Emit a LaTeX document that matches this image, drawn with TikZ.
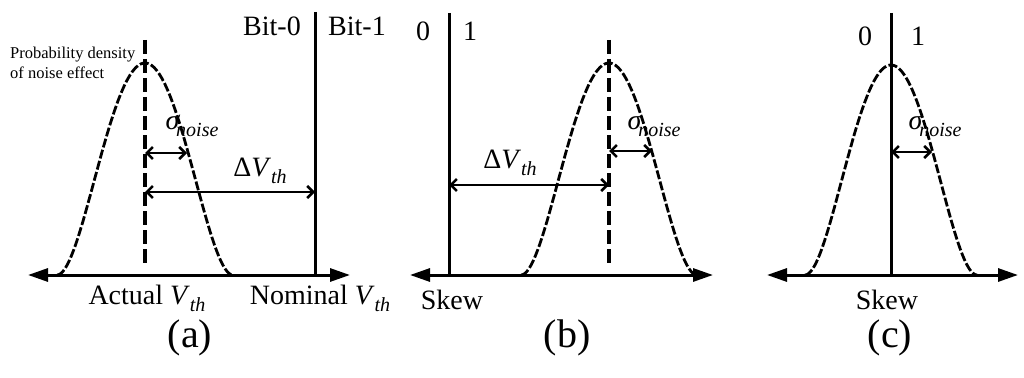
\documentclass[tikz,border=0pt]{standalone}
\usepackage{fontspec}
\setmainfont{Liberation Serif}
\usetikzlibrary{arrows.meta, positioning}

\newcommand{\lsub}[1]{\raisebox{-0.25em}{\fontsize{20}{20}\selectfont\itshape #1}}
\newcommand{\vth}{\textit{V}\lsub{th}}
\newcommand{\signoise}{\textit{σ}\kern-4pt\lsub{noise}}

\begin{document}
\begin{tikzpicture}[
    x=1pt, y=-1pt,
    label/.style={font=\fontsize{28}{32}\selectfont, inner sep=0},
    caption/.style={font=\fontsize{40}{44}\selectfont, inner sep=0},
    axis/.style={line width=3pt, {Triangle[length=20pt,width=13pt]}-{Triangle[length=20pt,width=13pt]}},
    border/.style={line width=3pt},
    centre/.style={line width=3.5pt, dash pattern=on 14pt off 5pt},
    density/.style={line width=2.8pt, dash pattern=on 9pt off 2.5pt},
    dim/.style={line width=2.5pt, {Straight Barb[length=6pt,width=12pt]}-{Straight Barb[length=6pt,width=12pt]}},
]
\useasboundingbox (0,0) rectangle (1024,377);

% (a)
\coordinate (a-left) at (28,275);
\coordinate (a-right) at (350,275);
\coordinate (a-top) at (315,12);
\coordinate (a-nom) at (315,275);
\coordinate (a-ctop) at (145,40);
\coordinate (a-cbot) at (145,265);
\coordinate (a-sl) at (145,153);
\coordinate (a-sr) at (187,153);
\coordinate (a-dl) at (145,192);
\coordinate (a-dr) at (315,192);
\draw [density] plot[domain=-88:88, samples=90, smooth] ({145+\x},{275-212*(1-\x*\x/7744)*(1-\x*\x/7744)});
\draw [axis] (a-left) -- (a-right);
\draw [border] (a-top) -- (a-nom);
\draw [centre] (a-ctop) -- (a-cbot);
\draw [dim] (a-sl) -- (a-sr);
\draw [dim] (a-dl) -- (a-dr);
\node (a-bit0) [label] at (272,26) {Bit-0};
\node (a-bit1) [label] at (357,26) {Bit-1};
\node (a-prob) [anchor=north west, inner sep=0, align=left, font=\fontsize{16.5}{20}\selectfont] at (10,47) {Probability density\\of noise effect};
\node (a-sig) [label] at (192,126) {\signoise};
\node (a-dv) [label] at (260,171) {Δ\vth};
\node (a-act) [label] at (147,298) {Actual \vth};
\node (a-nomlab) [label] at (320,298) {Nominal \vth};
\node (a-cap) [caption] at (190,338) {(a)};

% (b)
\coordinate (b-left) at (410,275);
\coordinate (b-right) at (713,275);
\coordinate (b-top) at (449,13);
\coordinate (b-skew) at (449,275);
\coordinate (b-ctop) at (609,40);
\coordinate (b-cbot) at (609,265);
\coordinate (b-sl) at (609,151);
\coordinate (b-sr) at (652,151);
\coordinate (b-dl) at (449,185);
\coordinate (b-dr) at (609,185);
\draw [density] plot[domain=-88:88, samples=90, smooth] ({609+\x},{275-212*(1-\x*\x/7744)*(1-\x*\x/7744)});
\draw [axis] (b-left) -- (b-right);
\draw [border] (b-top) -- (b-skew);
\draw [centre] (b-ctop) -- (b-cbot);
\draw [dim] (b-sl) -- (b-sr);
\draw [dim] (b-dl) -- (b-dr);
\node (b-zero) [label] at (423,31) {0};
\node (b-one) [label] at (470,31) {1};
\node (b-sig) [label] at (654,126) {\signoise};
\node (b-dv) [label] at (510,163) {Δ\vth};
\node (b-skewlab) [label] at (452,300) {Skew};
\node (b-cap) [caption] at (567,338) {(b)};

% (c)
\coordinate (c-left) at (767,275);
\coordinate (c-right) at (1018,275);
\coordinate (c-top) at (891,13);
\coordinate (c-mid) at (891,275);
\coordinate (c-sl) at (891,152);
\coordinate (c-sr) at (932,152);
\draw [density] plot[domain=-86:86, samples=90, smooth] ({891+\x},{275-210*(1-\x*\x/7396)*(1-\x*\x/7396)});
\draw [axis] (c-left) -- (c-right);
\draw [border] (c-top) -- (c-mid);
\draw [dim] (c-sl) -- (c-sr);
\node (c-zero) [label] at (865,36) {0};
\node (c-one) [label] at (918,36) {1};
\node (c-sig) [label] at (935,126) {\signoise};
\node (c-skewlab) [label] at (887,300) {Skew};
\node (c-cap) [caption] at (890,338) {(c)};

\end{tikzpicture}
\end{document}
